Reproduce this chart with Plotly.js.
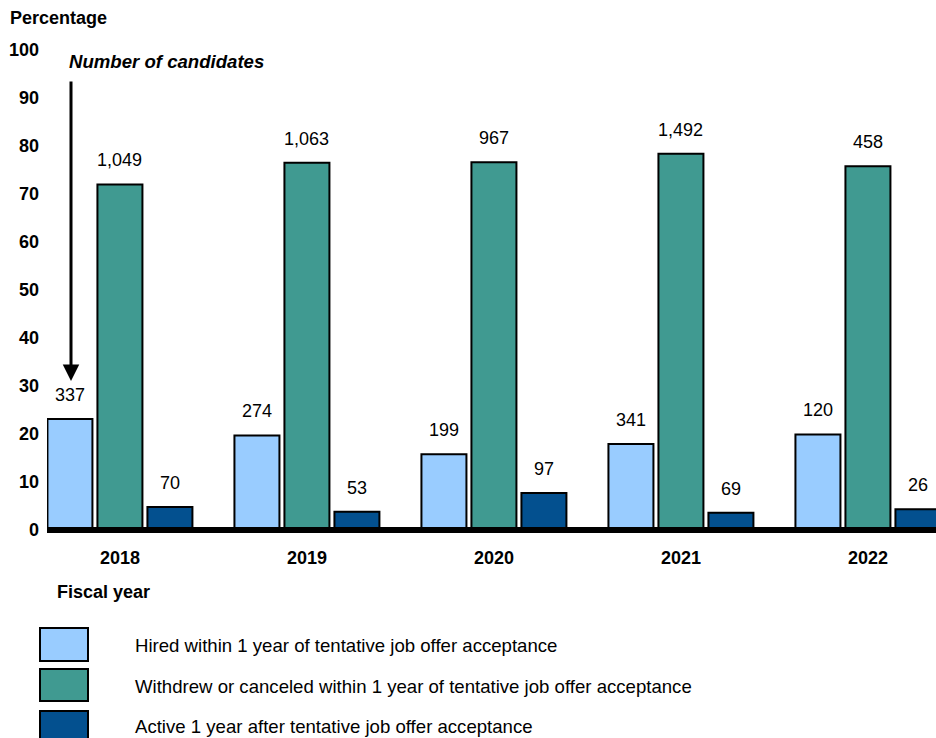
<!DOCTYPE html>
<html>
<head>
<meta charset="utf-8">
<script src="https://cdn.plot.ly/plotly-3.0.1.min.js"></script>
<style>html,body{margin:0;padding:0;background:#fff;}#chart{width:936px;height:738px;}</style>
</head>
<body>
<div id="chart"></div>
<script>
// ---- data ----
const years = ["2018", "2019", "2020", "2021", "2022"];
const seriesNames = [
  "Hired within 1 year of tentative job offer acceptance",
  "Withdrew or canceled within 1 year of tentative job offer acceptance",
  "Active 1 year after tentative job offer acceptance"
];
const hiredPct = [23.1, 19.7, 15.8, 17.9, 19.9];
const withdrewPct = [72.0, 76.5, 76.6, 78.4, 75.8];
const activePct = [4.8, 3.8, 7.7, 3.6, 4.3];
const hiredCount = ["337", "274", "199", "341", "120"];
const withdrewCount = ["1,049", "1,063", "967", "1,492", "458"];
const activeCount = ["70", "53", "97", "69", "26"];
const yTicks = [0, 10, 20, 30, 40, 50, 60, 70, 80, 90, 100];

// ---- style ----
const colors = ["#99ccff", "#409a91", "#03508f"];
const FONT = "Liberation Sans, Arial, sans-serif";
const W = 936, H = 738;
const M = {l: 47, r: 0, t: 50, b: 208};
const pw = W - M.l - M.r, ph = H - M.t - M.b;
const px = x => (x - M.l) / pw;
const py = y => (H - M.b - y) / ph;

const pcts = [hiredPct, withdrewPct, activePct];
const counts = [hiredCount, withdrewCount, activeCount];

const traces = pcts.map((vals, i) => ({
  type: "bar",
  name: seriesNames[i],
  x: years,
  y: vals,
  marker: {color: colors[i], line: {color: "#000", width: 2}},
  hoverinfo: "skip",
  showlegend: false
}));

const annotations = [];
const shifts = [-50, 0, 50];
pcts.forEach((vals, i) => {
  vals.forEach((v, j) => {
    annotations.push({
      xref: "x", yref: "y", x: j, y: v,
      xshift: shifts[i], yshift: 24, yanchor: "middle", xanchor: "center",
      text: counts[i][j], showarrow: false,
      font: {family: FONT, size: 18, color: "#000"}
    });
  });
});

annotations.push({
  xref: "paper", yref: "paper", x: px(8), y: py(18), xanchor: "left", yanchor: "middle",
  text: "Percentage", showarrow: false,
  font: {family: FONT, size: 18, color: "#000", weight: "bold"}
});
annotations.push({
  xref: "paper", yref: "paper", x: px(67), y: py(61), xanchor: "left", yanchor: "middle",
  text: "Number of candidates", showarrow: false,
  font: {family: FONT, size: 18.6, color: "#000", weight: "bold", style: "italic"}
});
annotations.push({
  xref: "paper", yref: "paper", x: px(71), y: py(381),
  text: "", showarrow: true, arrowhead: 2, arrowsize: 1.1, arrowwidth: 3, arrowcolor: "#000",
  axref: "pixel", ayref: "pixel", ax: 0, ay: -301
});
annotations.push({
  xref: "paper", yref: "paper", x: px(55), y: py(592), xanchor: "left", yanchor: "middle",
  text: "Fiscal year", showarrow: false,
  font: {family: FONT, size: 18, color: "#000", weight: "bold"}
});

const shapes = [];
// baseline at zero (bottom of plot area)
shapes.push({
  type: "line", xref: "paper", yref: "paper", x0: 0, x1: 1, y0: 0, y1: 0,
  line: {color: "#000", width: 6}, layer: "above"
});
const legendRows = [[628, 661], [669, 701], [711, 743]];
const legendTextY = [645, 686, 726];
legendRows.forEach((r, i) => {
  shapes.push({
    type: "rect", xref: "paper", yref: "paper",
    x0: px(40), x1: px(88), y0: py(r[0]), y1: py(r[1]),
    fillcolor: colors[i], line: {color: "#000", width: 2}
  });
  annotations.push({
    xref: "paper", yref: "paper", x: px(133), y: py(legendTextY[i]),
    xanchor: "left", yanchor: "middle", text: seriesNames[i], showarrow: false,
    font: {family: FONT, size: 18.6, color: "#000"}
  });
});

const layout = {
  width: W, height: H,
  margin: M,
  paper_bgcolor: "#fff", plot_bgcolor: "#fff",
  font: {family: FONT, size: 18, color: "#000"},
  barmode: "group",
  bargap: 0.198,
  bargroupgap: 0.1,
  showlegend: false,
  xaxis: {
    type: "category",
    range: [-0.39, 4.364],
    showline: false,
    showgrid: false, zeroline: false, ticks: "",
    tickfont: {family: FONT, size: 18, color: "#000", weight: "bold"},
    ticklabelstandoff: 15,
    fixedrange: true
  },
  yaxis: {
    range: [0, 100],
    tickvals: yTicks,
    showline: false, showgrid: false, zeroline: false, ticks: "",
    tickfont: {family: FONT, size: 18, color: "#000", weight: "bold"},
    ticklabelstandoff: 7,
    fixedrange: true
  },
  annotations: annotations,
  shapes: shapes
};

Plotly.newPlot("chart", traces, layout, {displayModeBar: false, staticPlot: true});
</script>
</body>
</html>
